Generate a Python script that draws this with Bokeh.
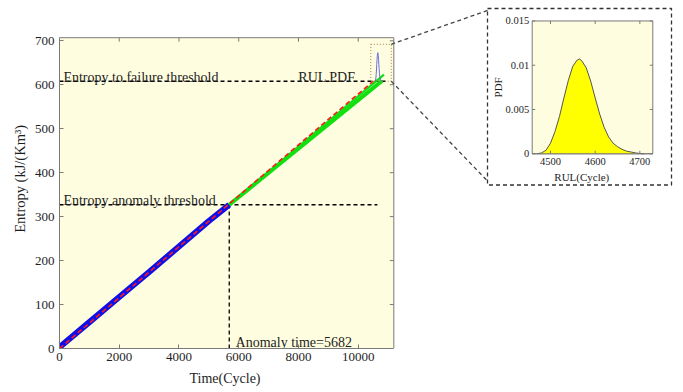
from bokeh.plotting import figure
from bokeh.models import Range1d, LinearAxis, FixedTicker, Title
from bokeh.embed import file_html
from bokeh.resources import INLINE
from bokeh.core.properties import value

# ---------------- data ----------------
time_obs = [0, 1000, 2000, 3000, 4000, 5000, 5682]
entropy_obs = [3, 60, 117, 174, 232, 290, 327]
time_fit = [0, 10500]
entropy_fit = [0, 608]
time_pred_hi = [5682, 10860]
entropy_pred_hi = [327, 623]
time_pred_lo = [5682, 10800]
entropy_pred_lo = [327, 609]
failure_threshold = 608
anomaly_threshold = 327
anomaly_time = 5682
failure_line_end = 11010
anomaly_line_end = 10640
pred_start = 6090          # time from which RUL is counted (mini PDF position)
pdf_scale = 6075           # height scale of mini PDF on the main axes

rul = [4470, 4480, 4490, 4500, 4510, 4520, 4530, 4540, 4550, 4560, 4565, 4570,
       4580, 4590, 4600, 4610, 4620, 4630, 4640, 4650, 4660, 4670, 4680, 4690,
       4700, 4710]
pdf = [0.0, 0.0001, 0.0004, 0.0012, 0.0025, 0.0042, 0.0063, 0.0083, 0.0099,
       0.0106, 0.0107, 0.0105, 0.0097, 0.0082, 0.0063, 0.0045, 0.0030, 0.0019,
       0.0012, 0.0008, 0.0005, 0.0003, 0.0002, 0.0001, 0.00003, 0.0]

x_ticks = [0, 2000, 4000, 6000, 8000, 10000]
y_ticks = [0, 100, 200, 300, 400, 500, 600, 700]
rul_ticks = [4500, 4600, 4700]
rul_tick_labels = ["4500", "4600", "4700"]
pdf_ticks = [0, 0.005, 0.01, 0.015]
pdf_tick_labels = ["0", "0.005", "0.01", "0.015"]

XMAX, YMAX = 11190, 707              # main axes limits
IX0, IX1, IY0, IY1 = 4459, 4729, 0.0, 0.015   # inset axes limits
zoom_box = (10420, 11105, 608, 692)  # x0, x1, y0, y1 in main coords

# ---------------- layout (page pixels) ----------------
W, H = 681, 390
BL, BT = 59, 5                       # frame left / top on the page
FRAME_BOTTOM = 349
FW, FH = W - BL, FRAME_BOTTOM - BT
BB = H - FRAME_BOTTOM
MAIN_R, MAIN_T = 393.3, 37.3         # main axes right / top
INS_L, INS_R, INS_T, INS_B = 531.7, 652.3, 20.5, 153.7
OB_L, OB_R, OB_T, OB_B = 487.0, 671.0, 8.0, 185.0
CONN_TOP_Y, CONN_BOT_Y = 10.0, 181.0

x_end = XMAX * FW / (MAIN_R - BL)
y_end = YMAX * FH / (FRAME_BOTTOM - MAIN_T)
mx = x_end / FW
my = y_end / FH
kx = (IX1 - IX0) / (INS_R - INS_L)
ky = (IY1 - IY0) / (INS_B - INS_T)
ix_start = IX0 - (INS_L - BL) * kx
ix_end = ix_start + FW * kx
iy_start = IY0 - (FRAME_BOTTOM - INS_B) * ky
iy_end = iy_start + FH * ky


def main_x(px):
    return (px - BL) * mx


def main_y(py):
    return (FRAME_BOTTOM - py) * my


def ins_x(px):
    return ix_start + (px - BL) * kx


def ins_y(py):
    return iy_start + (FRAME_BOTTOM - py) * ky


SERIF = value("Liberation Serif")
TXT = "#1e1e1e"
AX = "#7a7a7a"
YEL = "#FFFDE0"

p = figure(width=W, height=H, output_backend="svg", toolbar_location=None,
           x_range=Range1d(0, x_end), y_range=Range1d(0, y_end),
           x_axis_type=None, y_axis_type=None,
           min_border_left=BL, min_border_right=0, min_border_top=BT,
           min_border_bottom=BB)
p.outline_line_color = None
p.background_fill_color = "white"
p.border_fill_color = "white"
p.extra_x_ranges = {"ix": Range1d(ix_start, ix_end)}
p.extra_y_ranges = {"iy": Range1d(iy_start, iy_end)}

xaxis = LinearAxis(ticker=FixedTicker(ticks=x_ticks), bounds=(0, XMAX))
yaxis = LinearAxis(ticker=FixedTicker(ticks=y_ticks), bounds=(0, YMAX),
                   axis_label="Entropy  (kJ/(Km³)")
for ax in (xaxis, yaxis):
    ax.axis_line_color = AX
    ax.major_tick_line_color = AX
    ax.major_tick_in = 4
    ax.major_tick_out = 0
    ax.minor_tick_line_color = None
    ax.major_label_text_font = "Liberation Serif"
    ax.major_label_text_font_size = "13px"
    ax.major_label_text_color = TXT
    ax.major_label_standoff = 5
    ax.axis_label_text_font = "Liberation Serif"
    ax.axis_label_text_font_size = "14.5px"
    ax.axis_label_text_font_style = "normal"
    ax.axis_label_text_color = TXT
    ax.axis_label_standoff = 4
xaxis.major_label_standoff = 4
p.add_layout(xaxis, "below")
p.add_layout(yaxis, "left")
p.add_layout(Title(text="Time(Cycle)", align="left", offset=130,
                   text_font="Liberation Serif", text_font_size="14px",
                   text_font_style="normal", text_color=TXT), "below")

# main axes background and box
p.quad(left=0, right=XMAX, bottom=0, top=YMAX, fill_color=YEL, line_color=None)
p.line([0, XMAX, XMAX], [YMAX, YMAX, 0], line_color=AX, line_width=1)
p.segment(x0=x_ticks, x1=x_ticks, y0=[YMAX] * len(x_ticks),
          y1=[YMAX - 4 * my] * len(x_ticks), line_color=AX)
p.segment(x0=[XMAX] * len(y_ticks), x1=[XMAX - 4 * mx] * len(y_ticks),
          y0=y_ticks, y1=y_ticks, line_color=AX)

# thresholds
p.line([0, failure_line_end], [failure_threshold, failure_threshold],
       line_color="black", line_width=1.3, line_dash="4 3")
p.line([0, anomaly_line_end], [anomaly_threshold, anomaly_threshold],
       line_color="black", line_width=1.3, line_dash="4 3")
p.line([anomaly_time, anomaly_time], [0, anomaly_threshold],
       line_color="black", line_width=1.3, line_dash="4 3")

# data
p.line(time_obs, entropy_obs, line_color="#1010E6", line_width=6)
p.line(time_pred_lo, entropy_pred_lo, line_color="#10E010", line_width=4)
p.line(time_pred_hi, entropy_pred_hi, line_color="#10E010", line_width=2.2)
p.line(time_fit, entropy_fit, line_color="#FF1A1A", line_width=1.6, line_dash="5 3")

# mini pdf on main axes + zoom box
p.line([r + pred_start for r in rul], [failure_threshold + v * pdf_scale for v in pdf],
       line_color="#6D6DE0", line_width=1)
zx0, zx1, zy0, zy1 = zoom_box
p.quad(left=zx0, right=zx1, bottom=zy0, top=zy1, fill_color=None,
       line_color="#A07A50", line_dash="1 2", line_width=1)

# connectors from zoom box to the inset frame
p.segment(x0=[zx1, zx1], y0=[zy1, zy0],
          x1=[main_x(OB_L), main_x(OB_L)], y1=[main_y(CONN_TOP_Y), main_y(CONN_BOT_Y)],
          line_color="#444444", line_width=1.3, line_dash="4 3")

# outer dashed box
p.quad(left=ins_x(OB_L), right=ins_x(OB_R), bottom=ins_y(OB_B), top=ins_y(OB_T),
       fill_color=None, line_color="#333333", line_width=1.3, line_dash="4 3",
       x_range_name="ix", y_range_name="iy")

# inset axes
p.quad(left=IX0, right=IX1, bottom=IY0, top=IY1, fill_color=YEL, line_color=AX,
       x_range_name="ix", y_range_name="iy")
p.varea(x=rul, y1=[0] * len(rul), y2=pdf, fill_color="#FFFF00",
        x_range_name="ix", y_range_name="iy")
p.line(rul, pdf, line_color="#555555", line_width=1, x_range_name="ix", y_range_name="iy")
p.line([IX0, IX1], [IY0, IY0], line_color=AX, line_width=1, x_range_name="ix", y_range_name="iy")
n = len(rul_ticks)
p.segment(x0=rul_ticks, x1=rul_ticks, y0=[IY0] * n, y1=[IY0 + 3 * ky] * n,
          line_color=AX, x_range_name="ix", y_range_name="iy")
p.segment(x0=rul_ticks, x1=rul_ticks, y0=[IY1] * n, y1=[IY1 - 3 * ky] * n,
          line_color=AX, x_range_name="ix", y_range_name="iy")
m = len(pdf_ticks)
p.segment(x0=[IX0] * m, x1=[IX0 + 3 * kx] * m, y0=pdf_ticks, y1=pdf_ticks,
          line_color=AX, x_range_name="ix", y_range_name="iy")
p.segment(x0=[IX1] * m, x1=[IX1 - 3 * kx] * m, y0=pdf_ticks, y1=pdf_ticks,
          line_color=AX, x_range_name="ix", y_range_name="iy")
p.text(x=rul_ticks, y=[IY0] * n, text=rul_tick_labels, text_align="center",
       text_baseline="top", y_offset=4, text_font=SERIF, text_font_size="10.5px",
       text_color=TXT, x_range_name="ix", y_range_name="iy")
p.text(x=[IX0] * m, y=pdf_ticks, text=pdf_tick_labels, text_align="right",
       text_baseline="middle", x_offset=-3, text_font=SERIF, text_font_size="10.5px",
       text_color=TXT, x_range_name="ix", y_range_name="iy")
p.text(x=[4570], y=[IY0], text=["RUL(Cycle)"], text_align="center",
       text_baseline="middle", y_offset=23, text_font=SERIF, text_font_size="11px",
       text_color=TXT, x_range_name="ix", y_range_name="iy")
p.text(x=[IX0], y=[(IY0 + IY1) / 2], text=["PDF"], text_align="center",
       text_baseline="middle", x_offset=-34, angle=1.5708, text_font=SERIF,
       text_font_size="11px", text_color=TXT, x_range_name="ix", y_range_name="iy")

# main annotations
p.text(x=[130, 130], y=[failure_threshold, anomaly_threshold],
       text=["Entropy to failure threshold", "Entropy anomaly threshold"],
       text_align="left", text_baseline="alphabetic", y_offset=-4,
       text_font=SERIF, text_font_size="14px", text_color=TXT)
p.text(x=[9908], y=[failure_threshold], text=["RUL PDF"], text_align="right",
       text_baseline="alphabetic", y_offset=-4, text_font=SERIF,
       text_font_size="14px", text_color=TXT)
p.text(x=[anomaly_time + 210], y=[14], text=["Anomaly time=5682"], text_align="left",
       text_baseline="alphabetic", text_font=SERIF, text_font_size="14px", text_color=TXT)

open("out.html", "w").write(file_html(p, INLINE))
